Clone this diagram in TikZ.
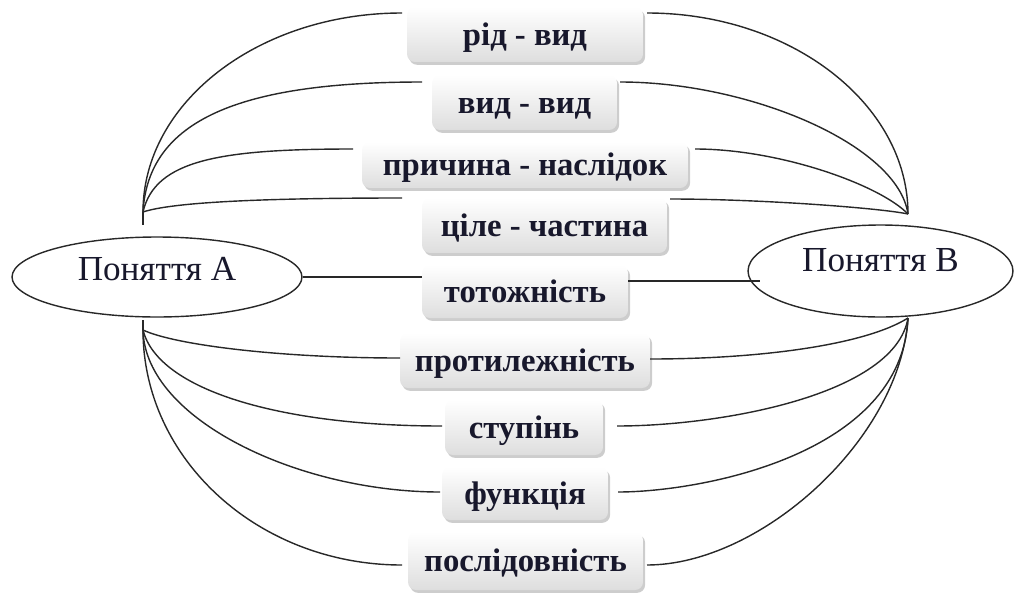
\documentclass[tikz,border=0pt]{standalone}
\usepackage{fontspec}
\setmainfont{Liberation Serif}
\usetikzlibrary{shapes.geometric,shadows}
\definecolor{txt}{RGB}{24,24,44}
\definecolor{ln}{RGB}{40,40,40}
\begin{document}
\begin{tikzpicture}[x=0.02cm,y=-0.02cm,
  rel/.style={rectangle, rounded corners=4.5pt, inner sep=0pt,
    top color=white, bottom color=black!13,
    drop shadow={shadow xshift=1.2pt, shadow yshift=-1.6pt, opacity=0.28, fill=black!70},
    font=\bfseries\fontsize{18.6}{20}\selectfont, text=txt,
    text height=12.5pt, text depth=0pt},
  con/.style={draw=ln, line width=0.8pt},
  concept/.style={ellipse, draw=ln, line width=0.8pt, inner sep=0pt,
    font=\fontsize{20}{22}\selectfont, text=txt}
]
\useasboundingbox (0,0) rectangle (1014,592);

% concepts
\node[concept, minimum width=5.8cm, minimum height=1.6cm, text height=8pt, text depth=4pt] (A) at (157,277) {Поняття А};
\node[concept, minimum width=5.3cm, minimum height=1.84cm, text height=6pt, text depth=6pt] (B) at (880.5,271) {Поняття В};

% relation boxes
\node[rel, minimum width=4.72cm, minimum height=1.10cm] (b1) at (525,34.5) {рід - вид};
\node[rel, minimum width=3.70cm, minimum height=1.10cm] (b2) at (524.5,102.5) {вид - вид};
\node[rel, minimum width=6.52cm, minimum height=0.92cm] (b3) at (525,165) {причина - наслідок};
\node[rel, minimum width=4.90cm, minimum height=1.10cm] (b4) at (544.5,225.5) {ціле - частина};
\node[rel, minimum width=4.12cm, minimum height=1.06cm] (b5) at (525,291.5) {тотожність};
\node[rel, minimum width=5.00cm, minimum height=1.10cm] (b6) at (525,360.5) {протилежність};
\node[rel, minimum width=3.16cm, minimum height=1.10cm] (b7) at (524,427.5) {ступінь};
\node[rel, minimum width=3.32cm, minimum height=1.06cm] (b8) at (525,493.5) {функція};
\node[rel, minimum width=4.70cm, minimum height=1.16cm] (b9) at (525.5,561) {послідовність};

% junction points
\coordinate (At) at (143,212);
\coordinate (Ats) at (143,225);
\coordinate (Ab) at (143,330);
\coordinate (Abs) at (143,320);
\coordinate (Bt) at (908,214);
\coordinate (Bb) at (908,318);
\coordinate (Bin) at (760,281);

% free ends near the boxes
\coordinate (b1l) at (402,13);  \coordinate (b1r) at (647,13);
\coordinate (b2l) at (422,82);  \coordinate (b2r) at (620,82);
\coordinate (b3l) at (353,149); \coordinate (b3r) at (695,149);
\coordinate (b4l) at (402,198); \coordinate (b4r) at (670,199);
\coordinate (b6l) at (400,358); \coordinate (b6r) at (650,359);
\coordinate (b7l) at (442,426); \coordinate (b7r) at (617,426);
\coordinate (b8l) at (440,492); \coordinate (b8r) at (618,492);
\coordinate (b9l) at (402,565); \coordinate (b9r) at (647,565);

% stubs
\draw[con] (At) -- (Ats);
\draw[con] (Abs) -- (Ab);

% upper left
\draw[con] (At) .. controls (143,102) and (259,13) .. (b1l);
\draw[con] (At) .. controls (148,120) and (240,82) .. (b2l);
\draw[con] (At) .. controls (155,160) and (220,149) .. (b3l);
\draw[con] (At) .. controls (170,203) and (250,198) .. (b4l);
% upper right
\draw[con] (Bt) .. controls (908,104) and (791,13) .. (b1r);
\draw[con] (Bt) .. controls (898,145) and (750,82) .. (b2r);
\draw[con] (Bt) .. controls (880,185) and (780,149) .. (b3r);
\draw[con] (Bt) .. controls (880,208) and (760,199) .. (b4r);
% middle
\draw[con] (A.east) -- (A.east -| b5.west);
\draw[con] (b5.east |- Bin) -- (Bin);
% lower left
\draw[con] (Ab) .. controls (175,345) and (280,358) .. (b6l);
\draw[con] (Ab) .. controls (158,390) and (280,426) .. (b7l);
\draw[con] (Ab) .. controls (145,420) and (300,492) .. (b8l);
\draw[con] (Ab) .. controls (143,460) and (259,565) .. (b9l);
% lower right
\draw[con] (Bb) .. controls (865,345) and (760,359) .. (b6r);
\draw[con] (Bb) .. controls (895,395) and (720,426) .. (b7r);
\draw[con] (Bb) .. controls (902,455) and (700,492) .. (b8r);
\draw[con] (Bb) .. controls (900,440) and (760,565) .. (b9r);
\end{tikzpicture}
\end{document}
